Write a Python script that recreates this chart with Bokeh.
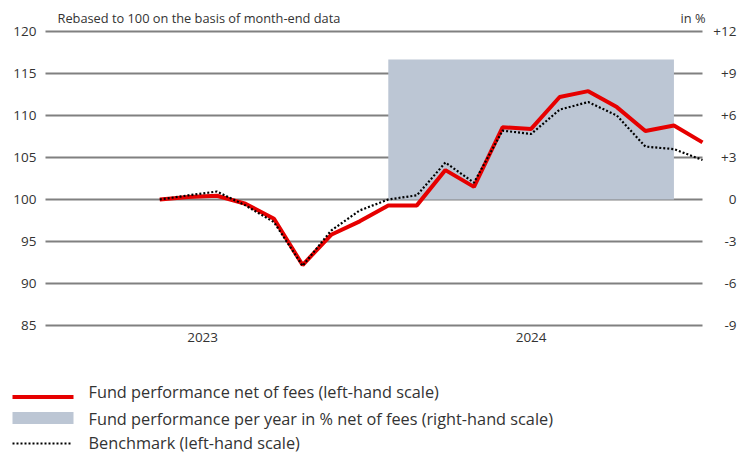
from bokeh.plotting import figure
from bokeh.models import ColumnDataSource, Range1d
from bokeh.core.properties import value
from bokeh.embed import file_html
from bokeh.resources import INLINE

# ---------------- data ----------------
month_index = list(range(20))
fund = [100.0, 100.3, 100.45, 99.5, 97.7, 92.2, 95.8, 97.4, 99.3, 99.3,
        103.5, 101.5, 108.6, 108.4, 112.2, 112.9, 111.0, 108.15, 108.8, 106.8]
benchmark = [100.0, 100.5, 100.95, 99.3, 97.3, 92.1, 96.3, 98.7, 100.0, 100.5,
             104.4, 102.0, 108.2, 107.8, 110.7, 111.6, 110.0, 106.3, 106.0, 104.7]

year_labels = ["2023", "2024"]
year_tick_pos = [1.5, 13.0]

bar_year = ["2024"]
bar_start_month = [8]
bar_end_month = [18]
bar_pct = [10.0]

left_ticks = [85, 90, 95, 100, 105, 110, 115, 120]
left_tick_labels = [str(v) for v in left_ticks]
right_ticks = [-9, -6, -3, 0, 3, 6, 9, 12]
right_tick_labels = ["-9", "-6", "-3", "0", "+3", "+6", "+9", "+12"]

chart_note = "Rebased to 100 on the basis of month-end data"
unit_note = "in %"
legend_labels = ["Fund performance net of fees (left-hand scale)",
                 "Fund performance per year in % net of fees (right-hand scale)",
                 "Benchmark (left-hand scale)"]

# ---------------- style / layout (pixels) ----------------
FONT = "Open Sans"
TXT = "#333333"
RED = "#E60000"
BAR = "#BCC6D4"
GRID = "#808080"

W, H = 748, 452
LEFT, PLOT_W = 45, 657           # month axis spans LEFT .. LEFT+PLOT_W
TOP_GRID, BOTTOM_GRID = 31, 325  # pixel rows of the 120 and 85 grid lines

x0, x_last = -4, 19
px_x = PLOT_W / (x_last - x0)
px_y = (BOTTOM_GRID - TOP_GRID) / (left_ticks[-1] - left_ticks[0])

x_lo = x0 - LEFT / px_x
x_hi = x_last + (W - LEFT - PLOT_W) / px_x
y_hi = left_ticks[-1] + TOP_GRID / px_y
y_lo = left_ticks[-1] - (H - TOP_GRID) / px_y

p = figure(width=W, height=H, x_range=Range1d(x_lo, x_hi), y_range=Range1d(y_lo, y_hi),
           x_axis_type=None, y_axis_type=None,
           output_backend="svg", toolbar_location=None, min_border=0)
p.title.visible = False
p.outline_line_color = None
p.grid.visible = False

p.extra_y_ranges = {"pct": Range1d((y_lo - 100) * 0.6, (y_hi - 100) * 0.6),
                    "px_y": Range1d(H, 0)}
p.extra_x_ranges = {"px_x": Range1d(0, W)}

# horizontal grid lines
n = len(left_ticks)
p.segment(x0=[x0] * n, y0=left_ticks, x1=[x_last] * n, y1=left_ticks,
          line_color=GRID, line_width=2)

# left-hand scale labels
p.text(x=[x0] * n, y=left_ticks, text=left_tick_labels, x_offset=-9,
       text_baseline="middle", text_align="right",
       text_font=value(FONT), text_font_size="13.5px", text_color=TXT)

# right-hand scale labels (right aligned)
p.text(x=[x_last] * len(right_ticks), y=right_ticks, text=right_tick_labels,
       y_range_name="pct", x_offset=34, text_baseline="middle", text_align="right",
       text_font=value(FONT), text_font_size="13.5px", text_color=TXT)

# year labels
p.text(x=year_tick_pos, y=[left_ticks[0]] * len(year_tick_pos), text=year_labels,
       y_offset=12, text_baseline="middle", text_align="center",
       text_font=value(FONT), text_font_size="13.5px", text_color=TXT)

# annual performance bar (right-hand scale)
bar_src = ColumnDataSource(dict(left=bar_start_month, right=bar_end_month,
                                top=bar_pct, bottom=[0] * len(bar_pct), year=bar_year))
p.quad(left="left", right="right", top="top", bottom="bottom", source=bar_src,
       y_range_name="pct", fill_color=BAR, line_color=None)

# series
p.line(month_index, fund, line_color=RED, line_width=4)
p.line(month_index, benchmark, line_color="black", line_width=2.2, line_dash="2 2")

# notes above the chart
p.text(x=[x0], y=[left_ticks[-1]], text=[chart_note], x_offset=12, y_offset=-14,
       text_baseline="middle", text_align="left",
       text_font=value(FONT), text_font_size="12.8px", text_color=TXT)
p.text(x=[x_last], y=[left_ticks[-1]], text=[unit_note], x_offset=3, y_offset=-14,
       text_baseline="middle", text_align="right",
       text_font=value(FONT), text_font_size="12.8px", text_color=TXT)

# ---------------- legend (pixel coordinates) ----------------
row_y = [391, 418.5, 442]
p.segment(x0=[12], y0=[row_y[0] + 5.5], x1=[73], y1=[row_y[0] + 5.5],
          x_range_name="px_x", y_range_name="px_y", line_color=RED, line_width=4)
p.quad(left=[12], right=[73], top=[row_y[1] - 7], bottom=[row_y[1] + 5],
       x_range_name="px_x", y_range_name="px_y", fill_color=BAR, line_color=None)
p.segment(x0=[12], y0=[row_y[2] + 1], x1=[70], y1=[row_y[2] + 1],
          x_range_name="px_x", y_range_name="px_y",
          line_color="black", line_width=2.2, line_dash="2 2")
p.text(x=[88] * 3, y=row_y, text=legend_labels, x_range_name="px_x", y_range_name="px_y",
       text_baseline="middle", text_font=value(FONT), text_font_size="16.3px",
       text_color=TXT)

open("out.html", "w").write(file_html(p, INLINE))
